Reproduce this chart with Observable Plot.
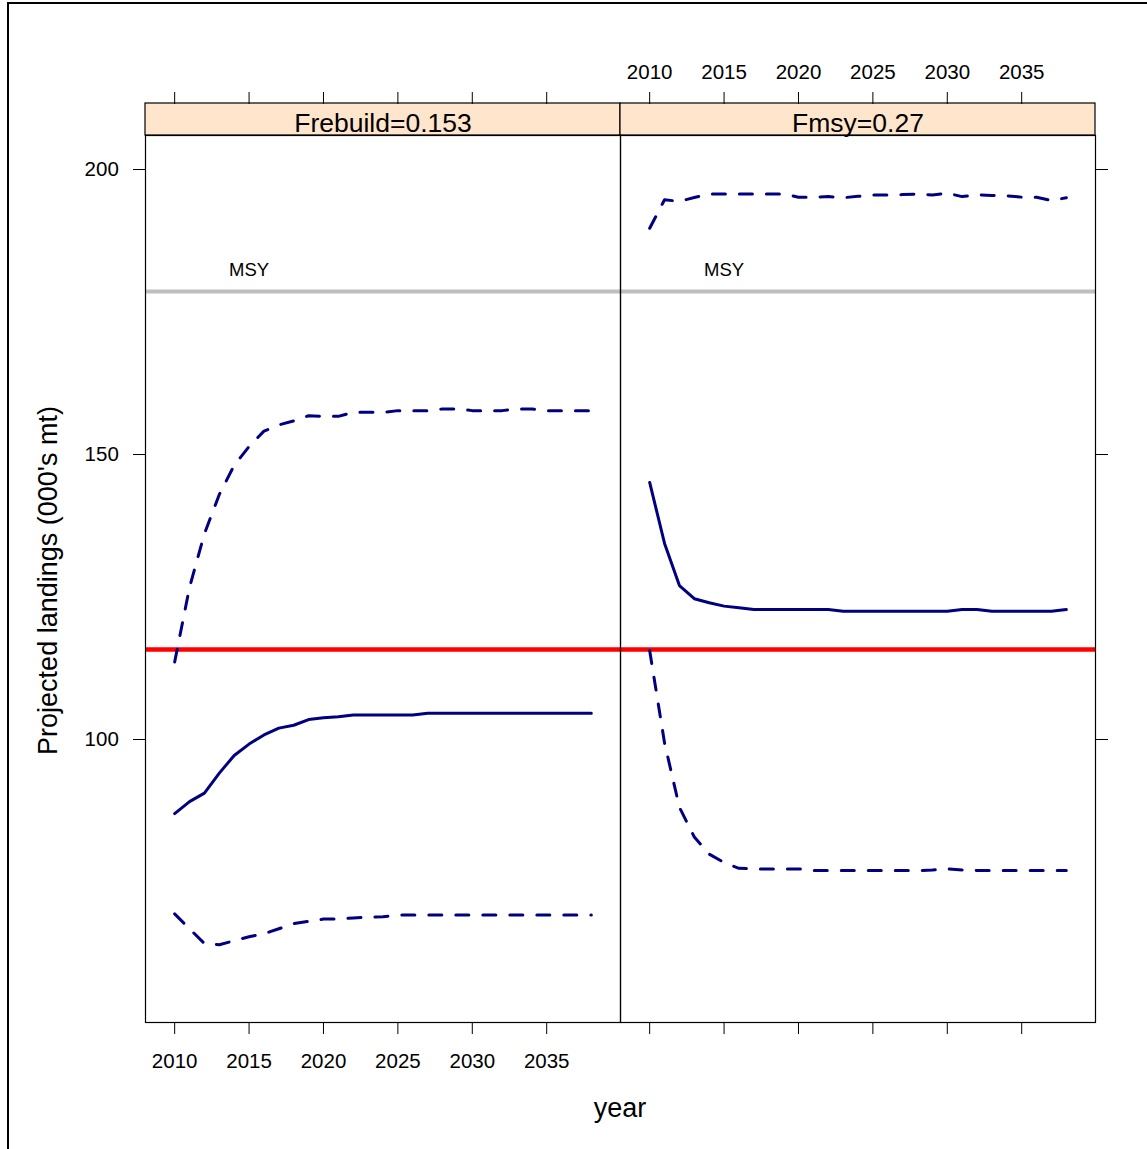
<!DOCTYPE html>
<html>
<head>
<meta charset="utf-8">
<script src="https://cdn.jsdelivr.net/npm/d3@7"></script>
<script src="https://cdn.jsdelivr.net/npm/@observablehq/plot@0.6"></script>
<style>
html, body { margin: 0; padding: 0; background: #fff; overflow: hidden; width: 1147px; height: 1149px; }
#page { position: relative; width: 1147px; height: 1149px; overflow: hidden; font-family: "Liberation Sans", Arial, sans-serif; color: #000; }
#border { position: absolute; left: 7px; top: 2px; width: 1400px; height: 1400px; border-top: 2px solid #000; border-left: 2px solid #000; box-sizing: border-box; }
#chart { position: absolute; left: 0; top: 0; }
.ylab { position: absolute; left: -252px; top: 567px; width: 600px; height: 27px; line-height: 27px; font-size: 27px; text-align: center; transform: rotate(-90deg); white-space: nowrap; }
.xlab { position: absolute; left: 420px; top: 1095px; width: 400px; line-height: 27px; font-size: 27px; text-align: center; }
</style>
</head>
<body>
<div id="page">
  <div id="border"></div>
  <div id="chart"></div>
  <div class="ylab">Projected landings (000's mt)</div>
  <div class="xlab">year</div>
</div>
<script>
// ---- data ----
const years = [2010, 2011, 2012, 2013, 2014, 2015, 2016, 2017, 2018, 2019,
               2020, 2021, 2022, 2023, 2024, 2025, 2026, 2027, 2028, 2029,
               2030, 2031, 2032, 2033, 2034, 2035, 2036, 2037, 2038];

const panels = ["Frebuild=0.153", "Fmsy=0.27"];

// Frebuild = 0.153
const frebuildMedian = [87.0, 89.1, 90.6, 94.1, 97.2, 99.2, 100.8, 102.0, 102.5, 103.5,
                        103.8, 104.0, 104.3, 104.3, 104.3, 104.3, 104.3, 104.6, 104.6, 104.6,
                        104.6, 104.6, 104.6, 104.6, 104.6, 104.6, 104.6, 104.6, 104.6];
const frebuildUpper  = [113.6, 126.7, 136.1, 143.0, 148.1, 151.4, 154.1, 155.2, 155.9, 156.8,
                        156.7, 156.7, 157.4, 157.4, 157.4, 157.7, 157.7, 157.7, 158.0, 158.0,
                        157.7, 157.7, 157.7, 158.0, 158.0, 157.7, 157.7, 157.7, 157.7];
const frebuildLower  = [69.4, 66.8, 64.2, 64.0, 64.7, 65.4, 65.9, 66.8, 67.7, 68.1,
                        68.5, 68.5, 68.7, 68.8, 68.9, 69.2, 69.2, 69.2, 69.2, 69.2,
                        69.2, 69.2, 69.2, 69.2, 69.2, 69.2, 69.2, 69.2, 69.2];

// Fmsy = 0.27
const fmsyMedian = [145.1, 134.4, 127.0, 124.7, 124.0, 123.4, 123.1, 122.8, 122.8, 122.8,
                    122.8, 122.8, 122.8, 122.5, 122.5, 122.5, 122.5, 122.5, 122.5, 122.5,
                    122.5, 122.8, 122.8, 122.5, 122.5, 122.5, 122.5, 122.5, 122.8];
const fmsyUpper  = [189.7, 194.7, 194.4, 195.1, 195.7, 195.7, 195.7, 195.7, 195.7, 195.7,
                    195.15, 195.15, 195.25, 195.05, 195.3, 195.55, 195.55, 195.6, 195.7, 195.55,
                    195.85, 195.25, 195.55, 195.45, 195.4, 195.15, 195.15, 194.55, 195.05];
const fmsyLower  = [115.6, 99.4, 88.1, 82.9, 79.9, 78.4, 77.4, 77.3, 77.3, 77.3,
                    77.3, 77.0, 77.0, 77.0, 77.0, 77.0, 77.0, 77.0, 77.0, 77.1,
                    77.3, 77.1, 77.0, 77.0, 77.0, 77.0, 77.0, 77.0, 77.0];

// reference levels
const msyLevel = 178.6;
const targetLevel = 115.8;
const msyLabel = "MSY";
const msyLabelYear = 2015;

// axes
const xTicks = [2010, 2015, 2020, 2025, 2030, 2035];
const yTicks = [100, 150, 200];
const xDomain = [2008.04, 2039.96];
const yDomain = [50.35, 205.97];

// ---- table ----
const rows = [];
function addSeries(panel, series, values) {
  values.forEach((v, i) => rows.push({panel, series, year: years[i], value: v}));
}
addSeries(panels[0], "median", frebuildMedian);
addSeries(panels[0], "upper", frebuildUpper);
addSeries(panels[0], "lower", frebuildLower);
addSeries(panels[1], "median", fmsyMedian);
addSeries(panels[1], "upper", fmsyUpper);
addSeries(panels[1], "lower", fmsyLower);

const navy = "#000080";

const plot = Plot.plot({
  width: 1147,
  height: 1149,
  marginLeft: 145,
  marginRight: 52,
  marginTop: 135,
  marginBottom: 127,
  style: {fontFamily: '"Liberation Sans", Arial, sans-serif', fontSize: "20.5px", color: "#000", background: "transparent", overflow: "visible"},
  fx: {domain: panels, padding: 0, axis: null, label: null},
  x: {domain: xDomain, label: null},
  y: {domain: yDomain, label: null},
  marks: [
    // strips
    Plot.rect(panels, {fx: d => d, x1: xDomain[0], x2: xDomain[1], y1: yDomain[1], y2: yDomain[1], insetTop: -32, fill: "#FFE5CC", stroke: "#000", strokeWidth: 1.2}),
    Plot.text(panels, {fx: d => d, text: d => d, frameAnchor: "top", lineAnchor: "bottom", dy: -4, fontSize: 26.5}),
    // reference lines
    Plot.ruleY([msyLevel], {stroke: "#BEBEBE", strokeWidth: 4}),
    Plot.text([{year: msyLabelYear, value: msyLevel, label: msyLabel}], {x: "year", y: "value", text: "label", lineAnchor: "bottom", dy: -16, fontSize: 18.5}),
    Plot.ruleY([targetLevel], {stroke: "#FF0000", strokeWidth: 4.5}),
    // projections
    Plot.line(rows.filter(d => d.series === "median"), {fx: "panel", x: "year", y: "value", z: "series", stroke: navy, strokeWidth: 3}),
    Plot.line(rows.filter(d => d.series !== "median"), {fx: "panel", x: "year", y: "value", z: "series", stroke: navy, strokeWidth: 3, strokeDasharray: "13,14"}),
    // panel borders
    Plot.frame({stroke: "#000", strokeWidth: 1.2}),
    // axes
    Plot.axisY(yTicks, {anchor: "left", facetAnchor: "left", tickSize: 12, tickPadding: 14.7, label: null}),
    Plot.axisY(yTicks, {anchor: "right", facetAnchor: "right", tickSize: 12, tickFormat: () => "", label: null}),
    Plot.axisX(xTicks, {anchor: "bottom", facetAnchor: "left", tickSize: 12, tickPadding: 19, tickFormat: "d", label: null}),
    Plot.axisX(xTicks, {anchor: "bottom", facetAnchor: "right", tickSize: 12, tickFormat: () => "", label: null}),
    Plot.axisX(xTicks, {anchor: "top", facetAnchor: "left", tickSize: 12, tickFormat: () => "", dy: -32, label: null}),
    Plot.axisX(xTicks, {anchor: "top", facetAnchor: "right", tickSize: 12, tickPadding: 13, tickFormat: "d", dy: -32, label: null})
  ]
});

document.getElementById("chart").appendChild(plot);
</script>
</body>
</html>
